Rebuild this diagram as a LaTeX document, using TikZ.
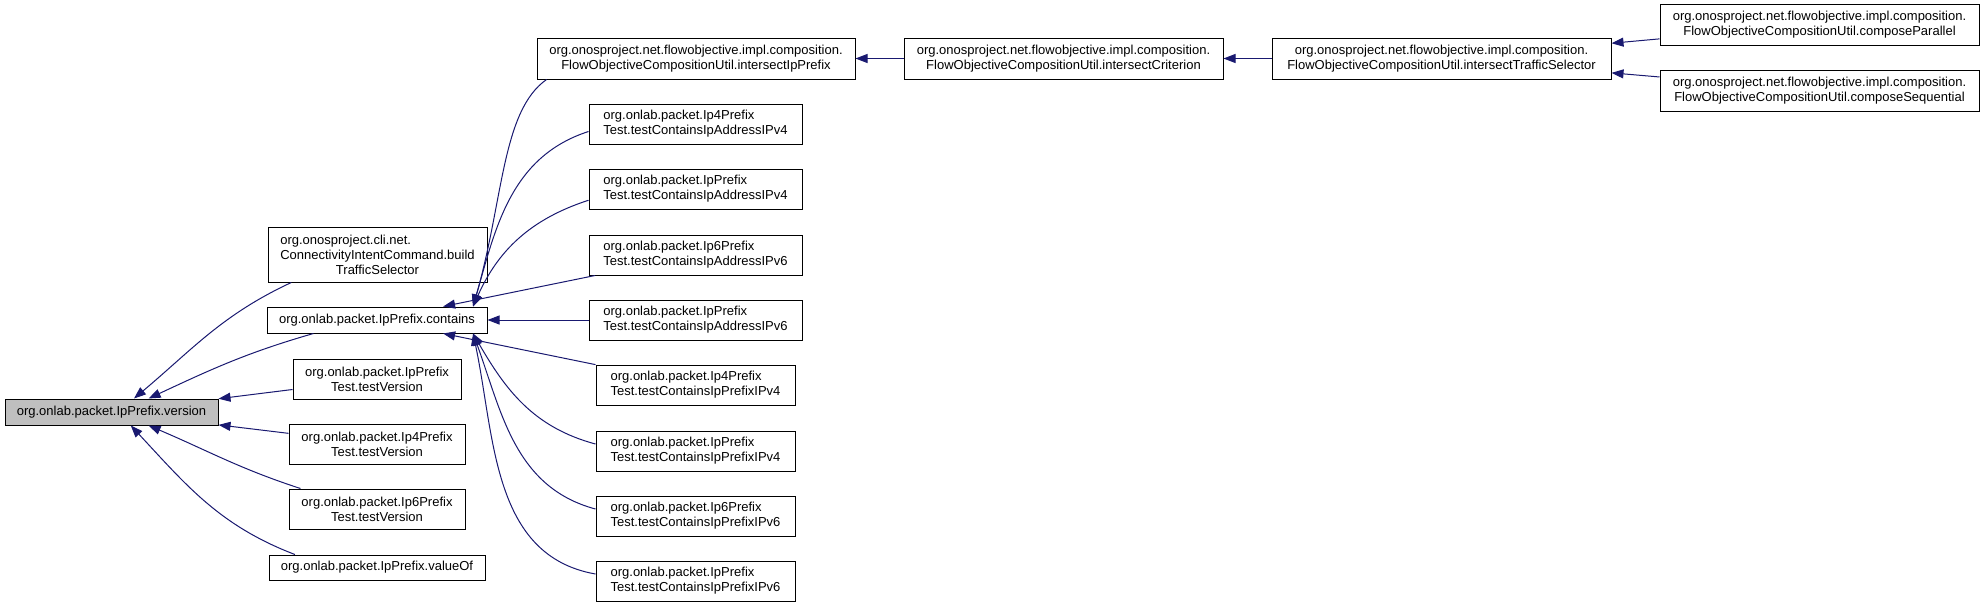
\documentclass[tikz,border=0pt]{standalone}
\usepackage{fontspec}
\setmainfont{Liberation Sans}
\usepackage{xcolor}
\usetikzlibrary{arrows.meta}
\definecolor{edge blue}{RGB}{25,25,112}
\tikzset{box/.style 2 args={draw=black, fill=white, line width=0.75pt, inner sep=0pt, align=center,
        minimum width=#1*0.75pt, minimum height=#2*0.75pt, font=\fontsize{9.75}{11.25}\selectfont},
    call/.style={draw=edge blue, line width=0.75pt, {Triangle[length=9pt,width=6.75pt]}-}}

\begin{document}
\begin{tikzpicture}[x=0.75pt, y=-0.75pt]
    \useasboundingbox (0,0) rectangle (1984,607);
    % Left part
    \node[box={213}{26}, fill=gray!50] (version) at (111.5,412) {org.onlab.packet.IpPrefix.version};
    \node[box={219}{55}] (build) at (377.5,254.5) {\rlap{org.onosproject.cli.net.}\phantom{ConnectivityIntentCommand.build}\\ConnectivityIntentCommand.build\\TrafficSelector};
    \node[box={220}{26}] (contains) at (377,320) {org.onlab.packet.IpPrefix.contains};
    \node[box={168}{40}] (ver) at (377,379) {org.onlab.packet.IpPrefix\\Test.testVersion};
    \node[box={176}{40}] (ver4) at (377,444) {org.onlab.packet.Ip4Prefix\\Test.testVersion};
    \node[box={176}{40}] (ver6) at (377,509) {org.onlab.packet.Ip6Prefix\\Test.testVersion};
    \node[box={216}{25}] (valueOf) at (377,567.5) {org.onlab.packet.IpPrefix.valueOf};
    % Callers of contains
    \node[box={318}{41}] (ipPrefix) at (696,58.5) {org.onosproject.net.flowobjective.impl.composition.\\FlowObjectiveCompositionUtil.intersectIpPrefix};
    \node[box={213}{40}, align=left] (addr4v4) at (695.5,124) {org.onlab.packet.Ip4Prefix\\Test.testContainsIpAddressIPv4};
    \node[box={213}{40}, align=left] (addrv4) at (695.5,189) {org.onlab.packet.IpPrefix\\Test.testContainsIpAddressIPv4};
    \node[box={213}{40}, align=left] (addr6v6) at (695.5,255) {org.onlab.packet.Ip6Prefix\\Test.testContainsIpAddressIPv6};
    \node[box={213}{40}, align=left] (addrv6) at (695.5,320) {org.onlab.packet.IpPrefix\\Test.testContainsIpAddressIPv6};
    \node[box={199}{40}, align=left] (pfx4v4) at (695.5,385) {org.onlab.packet.Ip4Prefix\\Test.testContainsIpPrefixIPv4};
    \node[box={199}{40}, align=left] (pfxv4) at (695.5,451) {org.onlab.packet.IpPrefix\\Test.testContainsIpPrefixIPv4};
    \node[box={199}{40}, align=left] (pfx6v6) at (695.5,516) {org.onlab.packet.Ip6Prefix\\Test.testContainsIpPrefixIPv6};
    \node[box={199}{40}, align=left] (pfxv6) at (695.5,581) {org.onlab.packet.IpPrefix\\Test.testContainsIpPrefixIPv6};
    % Top row
    \node[box={319}{41}] (criterion) at (1063.5,58.5) {org.onosproject.net.flowobjective.impl.composition.\\FlowObjectiveCompositionUtil.intersectCriterion};
    \node[box={339}{41}] (trafficSel) at (1441.5,58.5) {org.onosproject.net.flowobjective.impl.composition.\\FlowObjectiveCompositionUtil.intersectTrafficSelector};
    \node[box={319}{41}] (parallel) at (1819.5,24.5) {org.onosproject.net.flowobjective.impl.composition.\\FlowObjectiveCompositionUtil.composeParallel};
    \node[box={319}{41}] (sequential) at (1819.5,90.5) {org.onosproject.net.flowobjective.impl.composition.\\FlowObjectiveCompositionUtil.composeSequential};
    % Calls
    \draw[call] (version.31) to[out=40, in=205] (build.198);
    \draw[call] (version.20) to[out=25, in=196] (contains.192);
    \draw[call] (version) -- (ver);
    \draw[call] (version) -- (ver4);
    \draw[call] (version.340) to[out=337, in=162] (ver6.165);
    \draw[call] (version.325) to[out=313, in=159] (valueOf.171);
    \draw[call] (contains.8) to[out=74, in=215, out distance=83pt, in distance=41pt] (ipPrefix.188);
    \draw[call] (contains.8) to[out=74, in=198] (addr4v4.184);
    \draw[call] (contains.8) to[out=66, in=198] (addrv4.186);
    \draw[call] (contains) -- (addr6v6);
    \draw[call] (contains) -- (addrv6);
    \draw[call] (contains) -- (pfx4v4);
    \draw[call] (contains.352) to[out=300, in=165] (pfxv4.176);
    \draw[call] (contains.352) to[out=290, in=165] (pfx6v6.176);
    \draw[call] (contains.352) to[out=282, in=170] (pfxv6.176);
    \draw[call] (ipPrefix) -- (criterion);
    \draw[call] (criterion) -- (trafficSel);
    \draw[call] (trafficSel) -- (parallel);
    \draw[call] (trafficSel) -- (sequential);
\end{tikzpicture}
\end{document}
